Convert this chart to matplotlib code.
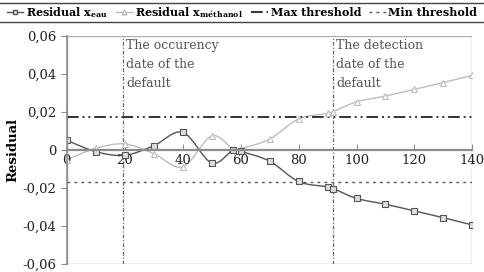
import numpy as np
import matplotlib
matplotlib.use("Agg")
import matplotlib.pyplot as plt
from matplotlib.path import Path
from matplotlib.patches import PathPatch, Rectangle
from matplotlib.lines import Line2D

plt.rcParams['font.family'] = ['DejaVu Serif']
plt.rcParams['mathtext.fontset'] = 'custom'
plt.rcParams['mathtext.rm'] = 'DejaVu Serif'
plt.rcParams['mathtext.bf'] = 'DejaVu Serif:bold'

# data
time = [0, 10, 20, 30, 40, 50, 57.5, 60, 70, 80, 90, 92, 100, 110, 120, 130, 140]
res_eau = [0.0052, -0.0008, -0.0027, 0.0023, 0.0094, -0.0068, 0.0003, -0.0006,
           -0.0058, -0.0165, -0.0193, -0.0202, -0.0254, -0.0285, -0.0320,
           -0.0356, -0.0394]
res_meth = [-0.0050, 0.0010, 0.0033, -0.0018, -0.0088, 0.0075, 0.0003, 0.0008,
            0.0058, 0.0164, 0.0193, 0.0203, 0.0254, 0.0285, 0.0320, 0.0356,
            0.0394]
max_thr = 0.0172
min_thr = -0.0168
occ_date = 19.5
det_date = 92
xticks = [0, 20, 40, 60, 80, 100, 120, 140]
yticks = [-0.06, -0.04, -0.02, 0, 0.02, 0.04, 0.06]
ylabels = ['-0,06', '-0,04', '-0,02', '0', '0,02', '0,04', '0,06']

DARK = '#555555'
LIGHT = '#bdbdbd'
AXC = '#8c8c8c'


def smooth_path(x, y):
    # excel-like smoothed line: catmull-rom segments as cubic beziers
    p = np.column_stack([x, y]).astype(float)
    n = len(p)
    verts = [p[0]]
    codes = [Path.MOVETO]
    for i in range(n - 1):
        p0 = p[i - 1] if i > 0 else p[i]
        p3 = p[i + 2] if i + 2 < n else p[i + 1]
        c1 = p[i] + (p[i + 1] - p0) / 6.0
        c2 = p[i + 1] - (p3 - p[i]) / 6.0
        verts += [c1, c2, p[i + 1]]
        codes += [Path.CURVE4] * 3
    return Path(verts, codes)


fig = plt.figure(figsize=(4.84, 2.72), dpi=100)
ax = fig.add_axes([0.138, 0.029, 0.838, 0.838])
ax.set_xlim(0, 140)
ax.set_ylim(-0.06, 0.06)

# threshold and date lines
ax.axhline(max_thr, color='#333333', lw=1.4, dashes=(6, 2, 1, 2, 1, 2))
ax.axhline(min_thr, color='#555555', lw=1.0, dashes=(2, 3))
ax.axvline(occ_date, color='#666666', lw=0.9, dashes=(3, 1.5, 1, 1.5))
ax.axvline(det_date, color='#666666', lw=0.9, dashes=(3, 1.5, 1, 1.5))

# series
ax.add_patch(PathPatch(smooth_path(time, res_meth), fill=False, ec=LIGHT, lw=1.0))
ax.plot(time, res_meth, ls='none', marker='^', ms=4, mfc='white', mec=LIGHT, mew=0.8)
ax.add_patch(PathPatch(smooth_path(time, res_eau), fill=False, ec=DARK, lw=1.0))
ax.plot(time, res_eau, ls='none', marker='s', ms=4, mfc='#dddddd', mec=DARK, mew=0.8)

# axes styling
for s in ['top', 'right']:
    ax.spines[s].set_visible(False)
ax.spines['bottom'].set_position(('data', 0))
ax.spines['bottom'].set_color(AXC)
ax.spines['bottom'].set_linewidth(1.6)
ax.spines['left'].set_color(AXC)
ax.spines['left'].set_linewidth(1.2)
ax.add_patch(Rectangle((0, 0), 1, 1, transform=ax.transAxes, fill=False,
                       ec='#b0b0b0', lw=1.0, zorder=0))

ax.set_xticks(xticks)
ax.set_xticklabels([str(t) for t in xticks], fontsize=9.5, color='#222222')
ax.set_yticks(yticks)
ax.set_yticklabels(ylabels, fontsize=9.5, color='#222222')
ax.tick_params(axis='x', direction='in', length=4, color=AXC, pad=3)
ax.tick_params(axis='y', direction='out', length=4, color=AXC)
ax.set_ylabel('Residual', fontsize=9.5, fontweight='bold')
ax.yaxis.set_label_coords(-0.118, 0.5)

ax.text(occ_date + 1, 0.0585, 'The occurency\ndate of the\ndefault', fontsize=9,
        color='#555555', va='top', ha='left', linespacing=1.6)
ax.text(det_date + 1, 0.0585, 'The detection\ndate of the\ndefault', fontsize=9,
        color='#555555', va='top', ha='left', linespacing=1.6)

# legend on top, between two rules
handles = [
    Line2D([], [], color=DARK, lw=1.0, marker='s', ms=3.5, mfc='#dddddd', mec=DARK),
    Line2D([], [], color=LIGHT, lw=1.0, marker='^', ms=3.5, mfc='white', mec=LIGHT),
    Line2D([], [], color='#333333', lw=1.4, dashes=(6, 2, 1, 2, 1, 2)),
    Line2D([], [], color='#555555', lw=1.0, dashes=(2, 3)),
]
labels = [r'Residual x$_{\mathbf{eau}}$', r'Residual x$_{\mathbf{m\acute{e}thanol}}$',
          'Max threshold', 'Min threshold']
leg = fig.legend(handles, labels, loc='center', bbox_to_anchor=(0.5, 1 - 12.5 / 272),
                 ncol=4, frameon=False, handlelength=1.5, handletextpad=0.25,
                 columnspacing=0.7, borderpad=0.0, borderaxespad=0.0,
                 prop={'weight': 'bold', 'size': 8.0})
fig.add_artist(Line2D([0, 1], [1 - 3 / 272, 1 - 3 / 272], color='#444444', lw=1.0))
fig.add_artist(Line2D([0, 1], [1 - 22 / 272, 1 - 22 / 272], color='#444444', lw=1.0))

fig.savefig('out.png', dpi=100)
